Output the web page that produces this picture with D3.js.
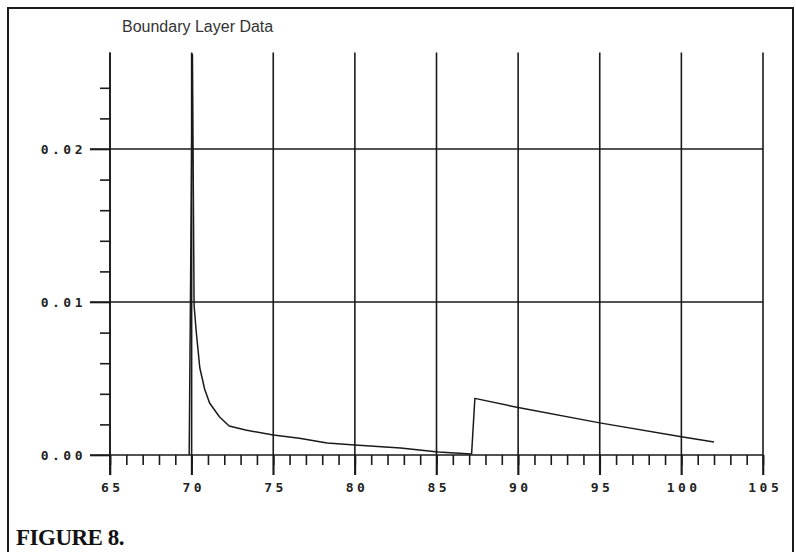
<!DOCTYPE html>
<html>
<head>
<meta charset="utf-8">
<script src="https://cdn.jsdelivr.net/npm/d3@7"></script>
<style>
body { margin: 0; background: #fff; }
svg { display: block; }
</style>
</head>
<body>
<div id="vis"></div>
<script>
//the data
var xVals = [69.85, 70.05, 70.15, 70.27, 70.5, 70.8, 71.1, 71.7, 72.3, 73.3, 75.0, 76.6, 78.3, 80.0, 82.8, 85.1, 87.15, 87.35, 90, 95, 100, 102];
var yVals = [0, 0.0262, 0.0098, 0.0082, 0.0057, 0.0043, 0.0034, 0.0025, 0.0019, 0.00163, 0.00131, 0.0011, 0.00078, 0.00065, 0.00046, 0.0002, 0.00007, 0.0037, 0.0031, 0.0021, 0.0012, 0.00085];

var xMajor = [65, 70, 75, 80, 85, 90, 95, 100, 105];
var xMinor = d3.range(65, 106, 1);
var yMajor = [0, 0.01, 0.02];
var yMinor = [0.002, 0.004, 0.006, 0.008, 0.012, 0.014, 0.016, 0.018, 0.022, 0.024];
var yTop = 0.0263;

var title = "Boundary Layer Data";
var caption = "FIGURE 8.";

var data = xVals.map((d, i) => ({x: d, y: yVals[i]}));

var w = 796;
var h = 552;
var ink = "#1a1a1a";

var svg = d3.select("#vis")
.append("svg")
.attr("width", w)
.attr("height", h);

//outer frame
svg.append("rect")
.attr("x", 8)
.attr("y", 8)
.attr("width", 785)
.attr("height", 570)
.attr("fill", "none")
.attr("stroke", ink)
.attr("stroke-width", 2);

//scales
var x = d3.scaleLinear()
.domain([65, 105])
.range([110, 763]);

var y = d3.scaleLinear()
.domain([0, 0.02])
.range([455, 149]);

//title
svg.append("text")
.attr("x", 122)
.attr("y", 32)
.attr("font-family", "Liberation Sans, Arial, sans-serif")
.attr("font-size", 16)
.attr("fill", "#333")
.text(title);

//horizontal grid
svg.selectAll(".hgrid")
.data(yMajor.filter(d => d > 0))
.enter()
.append("line")
.attr("x1", x(65) - 20)
.attr("x2", x(105))
.attr("y1", d => y(d))
.attr("y2", d => y(d))
.attr("stroke", ink)
.attr("stroke-width", 1.4);

//vertical grid
svg.selectAll(".vgrid")
.data(xMajor)
.enter()
.append("line")
.attr("x1", d => x(d))
.attr("x2", d => x(d))
.attr("y1", y(0) + 20)
.attr("y2", y(yTop))
.attr("stroke", ink)
.attr("stroke-width", 1.6);

//x axis line
svg.append("line")
.attr("x1", x(65) - 20)
.attr("x2", x(105))
.attr("y1", y(0))
.attr("y2", y(0))
.attr("stroke", ink)
.attr("stroke-width", 1.6);

//axes
var tickFont = "DejaVu Sans Mono, monospace";

var xMinorAxis = svg.append("g")
.attr("transform", `translate(0, ${y(0)})`)
.call(d3.axisBottom(x).tickValues(xMinor).tickSize(10).tickFormat(""));

var xMajorAxis = svg.append("g")
.attr("transform", `translate(0, ${y(0)})`)
.call(d3.axisBottom(x).tickValues(xMajor).tickSize(20).tickPadding(8).tickFormat(d3.format("d")));

var yMinorAxis = svg.append("g")
.attr("transform", `translate(${x(65)}, 0)`)
.call(d3.axisLeft(y).tickValues(yMinor).tickSize(10).tickFormat(""));

var yMajorAxis = svg.append("g")
.attr("transform", `translate(${x(65)}, 0)`)
.call(d3.axisLeft(y).tickValues(yMajor).tickSize(20).tickPadding(4).tickFormat(d3.format(".2f")));

svg.selectAll(".domain").remove();

svg.selectAll(".tick line")
.attr("stroke", ink)
.attr("stroke-width", 1.6);

svg.selectAll(".tick text")
.attr("font-family", tickFont)
.attr("font-size", 13)
.attr("font-weight", "bold")
.attr("letter-spacing", 3.5)
.attr("fill", "#222");

xMajorAxis.selectAll(".tick text")
.attr("dx", 1.75);

//y axis line
svg.append("line")
.attr("x1", x(65))
.attr("x2", x(65))
.attr("y1", y(0) + 20)
.attr("y2", y(yTop))
.attr("stroke", ink)
.attr("stroke-width", 1.6);

//the curve
svg.append("path")
.datum(data)
.attr("fill", "none")
.attr("stroke", ink)
.attr("stroke-width", 1.5)
.attr("stroke-linejoin", "round")
.attr("d", d3.line().x(d => x(d.x)).y(d => y(d.y)));

//figure caption
svg.append("text")
.attr("x", 16)
.attr("y", 545)
.attr("font-family", "Liberation Serif, Times New Roman, serif")
.attr("font-size", 23)
.attr("font-weight", "bold")
.attr("letter-spacing", -0.5)
.attr("fill", "#111")
.text(caption);
</script>
</body>
</html>
